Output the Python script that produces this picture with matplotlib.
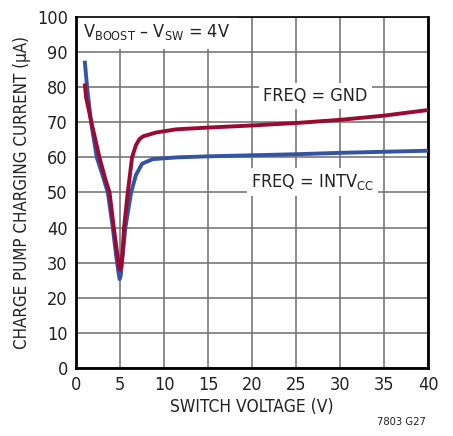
#!/usr/bin/env python3
# charge pump charging current vs switch voltage

import matplotlib
matplotlib.use("Agg")
import matplotlib.pyplot as plt

plt.rcParams['font.family'] = ['DejaVu Sans']
plt.rcParams['font.stretch'] = 'condensed'
plt.rcParams['mathtext.fontset'] = 'custom'

# FREQ = INTVcc (blue)
blue_x = [1, 1.25, 1.7, 2.35, 3.0, 3.6, 4.17, 4.55, 4.8, 4.95, 5.08, 5.25, 5.6, 6.25, 6.8, 7.5, 8.7,
          11.4, 15, 20, 25, 30, 35, 40]
blue_y = [87, 80, 70, 60, 55, 50, 40, 32, 27.5, 25.3, 26.5, 31, 40, 50, 55, 58.2, 59.5,
          60.0, 60.3, 60.6, 60.9, 61.3, 61.6, 61.9]

# FREQ = GND (red)
red_x = [1, 1.14, 1.74, 2.65, 3.3, 3.8, 4.28, 4.65, 4.85, 4.98, 5.1, 5.25, 5.45, 5.87, 6.36, 6.8, 7.2,
         7.6, 9.1, 11.4, 15, 20, 25, 30, 35, 40]
red_y = [80.5, 77, 70, 60, 54, 50, 40, 33, 29.3, 28, 28.8, 32, 40, 50, 60, 63.5, 65.2,
         66.0, 67.1, 68.0, 68.5, 69.1, 69.8, 70.7, 71.9, 73.5]

xticks = [0, 5, 10, 15, 20, 25, 30, 35, 40]
yticks = [0, 10, 20, 30, 40, 50, 60, 70, 80, 90, 100]

RED = "#9a0a33"
BLUE = "#3553a3"

fig = plt.figure(figsize=(4.53, 4.36), dpi=100)
ax = fig.add_axes([0.168, 0.156, 0.777, 0.805])

ax.plot(blue_x, blue_y, color=BLUE, lw=2.8, solid_joinstyle="round", zorder=3)
ax.plot(red_x, red_y, color=RED, lw=2.8, solid_joinstyle="round", zorder=4)

ax.set_xlim(0, 40)
ax.set_ylim(0, 100)
ax.set_xticks(xticks)
ax.set_yticks(yticks)
ax.tick_params(length=0, labelsize=13, pad=6, colors="#222222")
ax.grid(True, color="#6e6e6e", lw=1.1, zorder=1)
ax.set_axisbelow(True)

for side in ["left", "bottom", "right"]:
    ax.spines[side].set_linewidth(2)
ax.spines["top"].set_linewidth(1.2)

ax.set_xlabel("SWITCH VOLTAGE (V)", fontsize=12.5, color="#222222", labelpad=3)
ax.set_ylabel("CHARGE PUMP CHARGING CURRENT (µA)", fontsize=12.2, color="#222222", labelpad=4)

box = dict(facecolor="white", edgecolor="none", pad=3)
ax.text(0.8, 95.8, r"V$_{\mathregular{BOOST}}$ – V$_{\mathregular{SW}}$ = 4V", fontsize=13,
        ha="left", va="center", color="#222222", bbox=dict(facecolor="white", edgecolor="none", pad=5), zorder=2)
ax.text(27.2, 77.5, "FREQ = GND", fontsize=13, ha="center", va="center", color="#222222",
        bbox=box, zorder=2)
ax.text(26.9, 52.9, r"FREQ = INTV$_{\mathregular{CC}}$", fontsize=13, ha="center", va="center",
        color="#222222", bbox=box, zorder=2)

fig.text(0.94, 0.02, "7803 G27", fontsize=8, ha="right", va="bottom", color="#222222")

plt.savefig("out.png", dpi=100)
